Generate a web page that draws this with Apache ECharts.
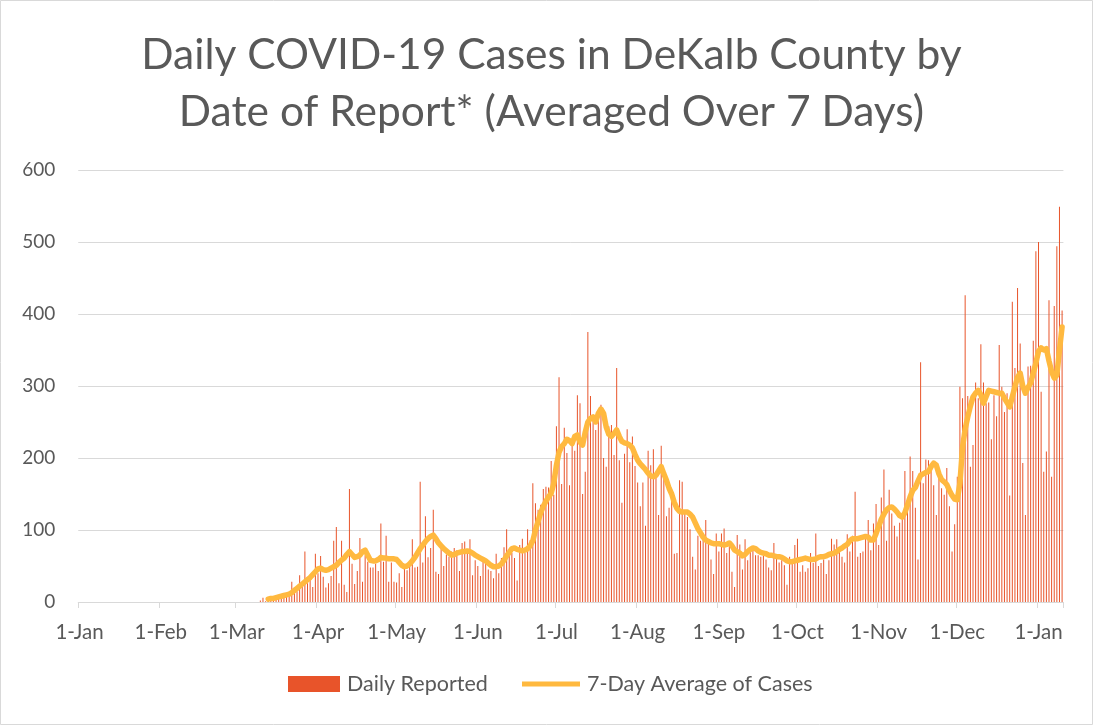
<!DOCTYPE html>
<html><head><meta charset="utf-8">
<script src="https://cdn.jsdelivr.net/npm/echarts@6/dist/echarts.min.js"></script>
<style>html,body{margin:0;padding:0;background:#fff}#c{width:1093px;height:725px}</style>
</head><body><div id="c"></div>
<script>
// ---- data ----
const axisStart = '2020-01-01';
const axisEnd = '2021-01-10';
const monthNames = ['Jan','Feb','Mar','Apr','May','Jun','Jul','Aug','Sep','Oct','Nov','Dec'];
const yTicks = [0, 100, 200, 300, 400, 500, 600];

const dailyStart = '2020-03-09';
const dailyReported = [
  0,2,6,1,3,4,5,3,7,8,10,9,12,28,20,15,37,25,70,26,33,21,67,40,64,35,20,
  26,36,85,104,26,85,24,14,157,53,25,43,89,28,65,56,48,48,53,43,109,56,92,28,55,28,27,
  40,21,49,44,49,87,48,49,167,55,119,62,75,128,42,39,78,50,66,63,70,75,72,43,82,84,
  68,87,37,58,50,36,57,58,45,43,33,67,40,61,76,101,66,68,61,30,79,88,68,101,86,165,
  137,128,135,157,160,159,196,149,244,312,164,242,207,162,219,210,287,276,150,181,375,286,259,239,253,274,
  200,188,244,246,204,325,197,138,206,240,194,230,189,166,133,166,106,210,190,212,176,121,217,181,119,131,
  156,67,68,169,167,125,118,101,63,45,92,85,91,114,86,59,39,95,70,95,102,68,84,42,21,93,
  80,45,87,58,70,75,65,65,63,64,59,48,44,82,63,55,58,51,24,63,56,79,88,42,51,
  42,47,68,54,95,50,54,59,39,58,88,80,87,70,63,55,94,70,92,153,63,68,70,93,114,72,109,
  136,79,145,184,85,156,123,106,91,110,122,182,137,202,182,131,59,333,165,198,197,190,162,121,180,158,
  149,186,133,70,108,174,299,283,426,286,188,218,305,283,358,305,276,277,226,287,258,357,
  299,264,290,148,417,325,436,359,193,121,327,328,363,487,500,292,181,209,419,174,411,494,549,405
];

const avgStart = '2020-03-13';
const sevenDayAvg = [
  4,5,5,6,7,8,9,10,11,13,16,19,22,25,28,31,34,38,42,46,47,45,44,
  45,47,49,51,55,58,61,66,70,66,62,63,65,70,72,65,58,57,57,59,62,61,61,60,60,60,59,
  55,51,49,50,53,57,62,68,74,79,84,88,91,93,88,82,78,74,71,68,65,66,68,69,70,70,
  71,70,68,65,63,61,59,57,54,51,49,49,50,53,58,64,69,74,75,73,72,71,72,74,78,85,
  100,112,124,133,140,146,151,165,190,208,216,220,226,224,220,230,232,222,218,236,250,255,257,250,262,268,
  262,243,233,230,234,239,230,223,221,220,218,214,205,197,192,188,184,179,175,174,176,182,188,178,169,158,
  150,138,130,126,125,125,125,122,118,110,102,96,90,86,84,82,81,81,81,80,79,80,82,78,72,70,
  68,64,66,70,73,75,74,71,69,68,67,65,65,64,63,63,62,60,57,56,56,57,58,59,60,
  61,60,59,59,60,62,63,63,64,66,67,68,70,73,75,78,80,85,88,88,88,89,90,91,90,86,86,
  95,105,115,122,128,131,132,129,125,120,118,124,135,146,155,159,168,176,178,180,181,188,193,190,178,170,
  167,163,155,148,143,142,165,215,240,257,272,285,290,294,288,276,285,294,293,292,291,290,
  290,283,277,271,285,299,312,318,300,290,298,304,318,332,348,353,350,352,335,320,311,315,350,382
];

// ---- build category table ----
const categories = [];
const t0 = Date.parse(axisStart + 'T00:00:00Z'), t1 = Date.parse(axisEnd + 'T00:00:00Z');
for (let t = t0; t <= t1; t += 86400000) categories.push(new Date(t).toISOString().slice(0, 10));
const indexOf = {};
categories.forEach((c, i) => indexOf[c] = i);
const barData = categories.map(() => null);
dailyReported.forEach((v, i) => { barData[indexOf[dailyStart] + i] = v; });
const avgData = categories.map(() => null);
sevenDayAvg.forEach((v, i) => { avgData[indexOf[avgStart] + i] = v; });

const isMonthStart = (i, v) => v.slice(8) === '01';
const FONT = 'Lato';

const chart = echarts.init(document.getElementById('c'), null, { renderer: 'canvas' });
chart.setOption({
  animation: false,
  backgroundColor: '#ffffff',
  title: {
    text: 'Daily COVID-19 Cases in DeKalb County by\nDate of Report* (Averaged Over 7 Days)',
    left: 546.5, top: 22, textAlign: 'center',
    textStyle: { fontFamily: FONT, fontSize: 42.5, fontWeight: 'normal', color: '#595959', lineHeight: 57 }
  },
  graphic: [{
    type: 'rect', silent: true, z: 100,
    shape: { x: 0.5, y: 0.5, width: 1092, height: 724 },
    style: { fill: 'none', stroke: '#D9D9D9', lineWidth: 1 }
  }],
  grid: { left: 78.25, right: 29.6, top: 170, bottom: 123, containLabel: false },
  legend: [
    {
      data: ['Daily Reported'], left: 288, top: 673, padding: 0, icon: 'rect',
      itemWidth: 52, itemHeight: 16,
      textStyle: { fontFamily: FONT, fontSize: 21.5, color: '#595959', padding: [0, 0, 0, 2] }
    },
    {
      data: ['7-Day Average of Cases'], left: 522, top: 673, padding: 0, icon: 'rect',
      itemWidth: 58, itemHeight: 5,
      textStyle: { fontFamily: FONT, fontSize: 21.5, color: '#595959', padding: [0, 0, 0, 2] }
    }
  ],
  xAxis: {
    type: 'category', data: categories, boundaryGap: true,
    axisLine: { lineStyle: { color: '#D9D9D9', width: 1 } },
    axisTick: { show: true, interval: isMonthStart, length: 6, lineStyle: { color: '#D9D9D9' } },
    axisLabel: {
      interval: isMonthStart, margin: 20, color: '#595959', fontSize: 20.5, fontFamily: FONT,
      formatter: v => (+v.slice(8)) + '-' + monthNames[+v.slice(5, 7) - 1]
    },
    splitLine: { show: false }
  },
  yAxis: {
    type: 'value', min: yTicks[0], max: yTicks[yTicks.length - 1], interval: yTicks[1] - yTicks[0],
    axisLine: { show: false }, axisTick: { show: false },
    axisLabel: { color: '#595959', fontSize: 19, fontFamily: FONT, margin: 23 },
    splitLine: { lineStyle: { color: '#D9D9D9', width: 1 } }
  },
  series: [
    {
      name: 'Daily Reported', type: 'bar', data: barData, barWidth: 1,
      itemStyle: { color: '#E8542A' }, z: 2
    },
    {
      name: '7-Day Average of Cases', type: 'line', data: avgData, showSymbol: false,
      symbol: 'none', connectNulls: false,
      lineStyle: { width: 5.5, color: '#FFB93F', cap: 'round', join: 'round' },
      itemStyle: { color: '#FFB93F' }, z: 3
    }
  ]
});
</script>
</body></html>
